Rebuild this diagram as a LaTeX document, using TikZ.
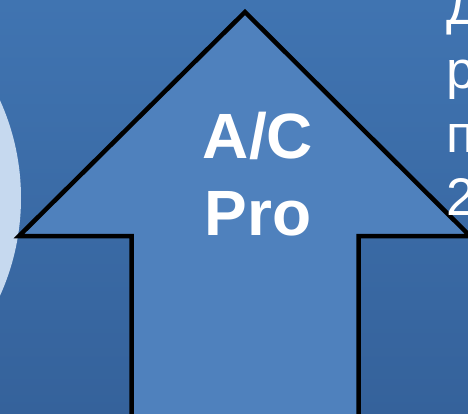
\documentclass[tikz,border=0pt]{standalone}
\usepackage{fontspec}
\setmainfont{Liberation Sans}
\definecolor{bgtop}{HTML}{4074B1}
\definecolor{bgbot}{HTML}{35629B}
\definecolor{arrowfill}{HTML}{4F81BD}
\definecolor{disc}{HTML}{C6D9EF}
\tikzset{
  bigarrow/.style={draw=black, line width=4.5pt, fill=arrowfill, line join=miter},
  arrowlabel/.style={text=white, font=\bfseries\fontsize{64}{77}\selectfont, anchor=base, inner sep=0pt},
  sidetext/.style={text=white, font=\fontsize{53}{64}\selectfont, anchor=base west, inner sep=0pt}
}
\begin{document}
\begin{tikzpicture}[x=1pt,y=-1pt]
\useasboundingbox (0,0) rectangle (468,413);
\clip (0,0) rectangle (468,413);
\shade[top color=bgtop, bottom color=bgbot] (0,0) rectangle (468,413);
\fill[disc] (-216,198) circle[radius=237];
\draw[bigarrow] (245,12) -- (470,236) -- (358.5,236) -- (358.5,425) -- (131.5,425) -- (131.5,236) -- (19,236) -- cycle;
\node[arrowlabel] (l1) at (258,158) {A/C};
\node[arrowlabel] (l2) at (258,235) {Pro};
\node[sidetext] (t1) at (446,24) {Д};
\node[sidetext] (t2) at (446,88) {р};
\node[sidetext] (t3) at (446,152) {п};
\node[sidetext] (t4) at (446,215) {2};
\end{tikzpicture}
\end{document}
